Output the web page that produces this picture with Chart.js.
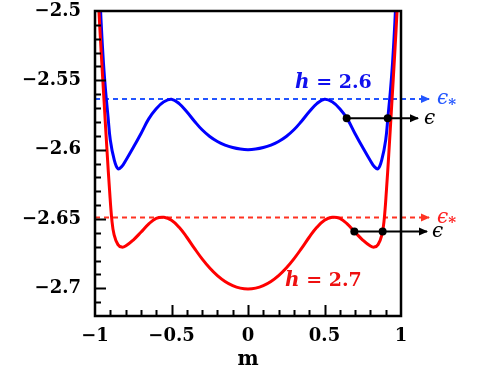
<!DOCTYPE html>
<html>
<head>
<meta charset="utf-8">
<script src="https://cdn.jsdelivr.net/npm/chart.js@4.4.0/dist/chart.umd.min.js"></script>
<style>
  html, body { margin: 0; padding: 0; background: #fff; }
</style>
</head>
<body>
<canvas id="chart" width="491" height="368"></canvas>
<script>
// ==================== DATOS ====================
const mBlue = [-0.99, -0.975, -0.96, -0.945, -0.93, -0.915, -0.9, -0.875, -0.85, -0.825, -0.8, -0.75, -0.7, -0.65, -0.6, -0.55, -0.5,
               -0.45, -0.4, -0.35, -0.3, -0.25, -0.2, -0.15, -0.1, -0.05, 0, 0.05, 0.1, 0.15, 0.2, 0.25, 0.3, 0.35, 0.4, 0.45,
               0.5, 0.55, 0.6, 0.65, 0.7, 0.75, 0.8, 0.825, 0.85, 0.875, 0.9, 0.915, 0.93, 0.945, 0.96, 0.975, 0.99];
const fBlue = [-2.42, -2.47, -2.508, -2.537, -2.5585, -2.576, -2.593, -2.607, -2.6138, -2.6122, -2.608, -2.5985, -2.5885, -2.578, -2.5705, -2.5655, -2.5636,
               -2.5668, -2.5727, -2.5795, -2.5857, -2.5905, -2.5941, -2.5967, -2.5985, -2.5996, -2.6, -2.5996, -2.5985, -2.5967, -2.5941, -2.5905, -2.5857, -2.5795, -2.5727, -2.5668,
               -2.5636, -2.5655, -2.5705, -2.578, -2.5885, -2.5985, -2.608, -2.6122, -2.6138, -2.607, -2.593, -2.576, -2.5585, -2.537, -2.508, -2.47, -2.42];

const mRed = [-0.995, -0.975, -0.96, -0.94, -0.92, -0.905, -0.89, -0.875, -0.85, -0.825, -0.8, -0.75, -0.7, -0.65, -0.6, -0.55, -0.5,
              -0.45, -0.4, -0.35, -0.3, -0.25, -0.2, -0.15, -0.1, -0.05, 0, 0.05, 0.1, 0.15, 0.2, 0.25, 0.3, 0.35, 0.4, 0.45,
              0.5, 0.55, 0.6, 0.65, 0.7, 0.75, 0.8, 0.825, 0.85, 0.875, 0.89, 0.905, 0.92, 0.94, 0.96, 0.975, 0.995];
const fRed = [-2.456, -2.4985, -2.529, -2.5665, -2.6035, -2.629, -2.6505, -2.6615, -2.6685, -2.6703, -2.6695, -2.6652, -2.6596, -2.6537, -2.6496, -2.6488, -2.6509,
              -2.656, -2.6632, -2.6712, -2.6788, -2.6854, -2.6909, -2.6951, -2.6981, -2.6999, -2.7005, -2.6999, -2.6981, -2.6951, -2.6909, -2.6854, -2.6788, -2.6712, -2.6632, -2.656,
              -2.6509, -2.6488, -2.6496, -2.6537, -2.6596, -2.6652, -2.6695, -2.6703, -2.6685, -2.6615, -2.6505, -2.629, -2.6035, -2.5665, -2.529, -2.4985, -2.456];

const epsStar = [-2.5635, -2.649];      // azul, rojo
const epsLevel = [-2.5774, -2.659];     // nivel de las flechas negras
const dotsBlue = [0.645, 0.913];
const dotsRed = [0.695, 0.88];

const xTicks = [-1, -0.5, 0, 0.5, 1];
const yTicks = [-2.7, -2.65, -2.6, -2.55, -2.5];

// ==================== ESTILO ====================
const FONT = "'DejaVu Serif', 'Liberation Serif', serif";
const pts = (xs, ys) => xs.map((x, i) => ({ x, y: ys[i] }));
const fmt = v => (v < 0 ? '\u2212' : '') + Math.abs(v);

// flechas, marco y textos
const decorations = {
    id: 'decorations',
    afterDatasetsDraw(chart) {
        const { ctx, chartArea: a, scales: { x, y } } = chart;
        ctx.save();

        // puntas de flecha
        chart.data.datasets.forEach((ds, i) => {
            if (!ds.arrow) return;
            const el = chart.getDatasetMeta(i).data;
            const p = el[el.length - 1];
            ctx.fillStyle = ds.arrow;
            ctx.beginPath();
            ctx.moveTo(p.x + 1, p.y);
            ctx.lineTo(p.x - 8, p.y - 4);
            ctx.lineTo(p.x - 8, p.y + 4);
            ctx.closePath();
            ctx.fill();
        });

        // marco
        ctx.strokeStyle = '#000';
        ctx.lineWidth = 2.5;
        ctx.strokeRect(a.left, a.top, a.right - a.left, a.bottom - a.top);

        // marcas hacia dentro
        ctx.lineWidth = 2;
        ctx.beginPath();
        for (let k = 0; k <= 22; k++) {
            const v = -2.72 + k * 0.01;
            const major = Math.abs(Math.round(v * 1000)) % 50 === 0;
            const py = Math.round(y.getPixelForValue(v)) + 0.5;
            if (py <= a.top + 1 || py >= a.bottom - 1) continue;
            ctx.moveTo(a.left, py);
            ctx.lineTo(a.left + (major ? 11 : 6), py);
        }
        for (let k = 1; k < 20; k++) {
            const v = -1 + k * 0.1;
            const major = k % 5 === 0;
            const px = Math.round(x.getPixelForValue(v)) + 0.5;
            ctx.moveTo(px, a.bottom);
            ctx.lineTo(px, a.bottom - (major ? 11 : 6));
        }
        ctx.stroke();

        // textos h = ...
        const hLabel = (xv, yv, txt, color) => {
            const px = x.getPixelForValue(xv), py = y.getPixelForValue(yv);
            ctx.fillStyle = color;
            ctx.textBaseline = 'alphabetic';
            ctx.textAlign = 'left';
            ctx.font = 'italic bold 20px ' + FONT;
            ctx.fillText('h', px, py);
            const w = ctx.measureText('h').width;
            ctx.font = 'bold 19px ' + FONT;
            ctx.fillText(' = ' + txt, px + w, py);
        };
        hLabel(0.307, -2.5555, '2.6', '#1010ee');
        hLabel(0.242, -2.6983, '2.7', '#ee1010');

        // etiquetas epsilon
        chart.data.datasets.forEach((ds, i) => {
            if (!ds.epsLabel) return;
            const el = chart.getDatasetMeta(i).data;
            const p = el[el.length - 1];
            ctx.fillStyle = ds.epsColor;
            ctx.textBaseline = 'middle';
            ctx.textAlign = 'left';
            ctx.font = 'italic 20px ' + FONT;
            ctx.fillText('\u03F5', p.x + ds.epsGap, p.y);
            if (ds.epsLabel === 'star') {
                const w = ctx.measureText('\u03F5').width;
                ctx.font = 'bold 15px ' + FONT;
                ctx.fillText('*', p.x + ds.epsGap + w, p.y + 6);
            }
        });
        ctx.restore();
    }
};

new Chart(document.getElementById('chart'), {
    type: 'line',
    data: {
        datasets: [
            {
                data: pts([...dotsBlue, 1.111], [epsLevel[0], epsLevel[0], epsLevel[0]]),
                borderColor: '#000', borderWidth: 2, clip: false,
                pointRadius: [4, 4, 0], pointBackgroundColor: '#000', pointBorderWidth: 0,
                arrow: '#000', epsLabel: 'plain', epsColor: '#000', epsGap: 6
            },
            {
                data: pts([...dotsRed, 1.17], [epsLevel[1], epsLevel[1], epsLevel[1]]),
                borderColor: '#000', borderWidth: 2, clip: false,
                pointRadius: [4, 4, 0], pointBackgroundColor: '#000', pointBorderWidth: 0,
                arrow: '#000', epsLabel: 'plain', epsColor: '#000', epsGap: 5
            },
            {
                data: pts(mRed, fRed),
                borderColor: '#ff0000', borderWidth: 3, pointRadius: 0, tension: 0.4
            },
            {
                data: pts(mBlue, fBlue),
                borderColor: '#0000ff', borderWidth: 3, pointRadius: 0, tension: 0.4
            },
            {
                data: pts([-1, 1.183], [epsStar[0], epsStar[0]]),
                borderColor: '#2255ff', borderWidth: 2, borderDash: [5, 4], clip: false, pointRadius: 0,
                arrow: '#2255ff', epsLabel: 'star', epsColor: '#2255ff', epsGap: 8
            },
            {
                data: pts([-1, 1.183], [epsStar[1], epsStar[1]]),
                borderColor: '#ff3322', borderWidth: 2, borderDash: [5, 4], clip: false, pointRadius: 0,
                arrow: '#ff3322', epsLabel: 'star', epsColor: '#ff2222', epsGap: 8
            }
        ]
    },
    options: {
        responsive: false,
        devicePixelRatio: 1,
        animation: false,
        layout: { padding: { top: 11, right: 90, left: 0, bottom: 0 } },
        plugins: { legend: { display: false }, tooltip: { enabled: false } },
        scales: {
            x: {
                type: 'linear', min: -1, max: 1,
                afterBuildTicks: s => { s.ticks = xTicks.map(v => ({ value: v })); },
                afterFit: s => { s.height = 52; s.paddingLeft = 0; s.paddingRight = 0; },
                grid: { display: false, drawTicks: false },
                border: { display: false },
                ticks: {
                    padding: 10, color: '#000', maxRotation: 0,
                    font: { family: FONT, size: 18, weight: 'bold' },
                    callback: v => fmt(v)
                },
                title: {
                    display: true, text: 'm', color: '#000',
                    font: { family: FONT, size: 20, weight: 'bold' },
                    padding: { top: 0, bottom: -4 }
                }
            },
            y: {
                type: 'linear', min: -2.72, max: -2.5,
                afterBuildTicks: s => { s.ticks = yTicks.map(v => ({ value: v })); },
                afterFit: s => { s.width = 95; s.paddingTop = 0; s.paddingBottom = 0; },
                grid: { display: false, drawTicks: false },
                border: { display: false },
                ticks: {
                    padding: 14, color: '#000',
                    font: { family: FONT, size: 18, weight: 'bold' },
                    callback: v => fmt(v)
                }
            }
        }
    },
    plugins: [decorations]
});
</script>
</body>
</html>
